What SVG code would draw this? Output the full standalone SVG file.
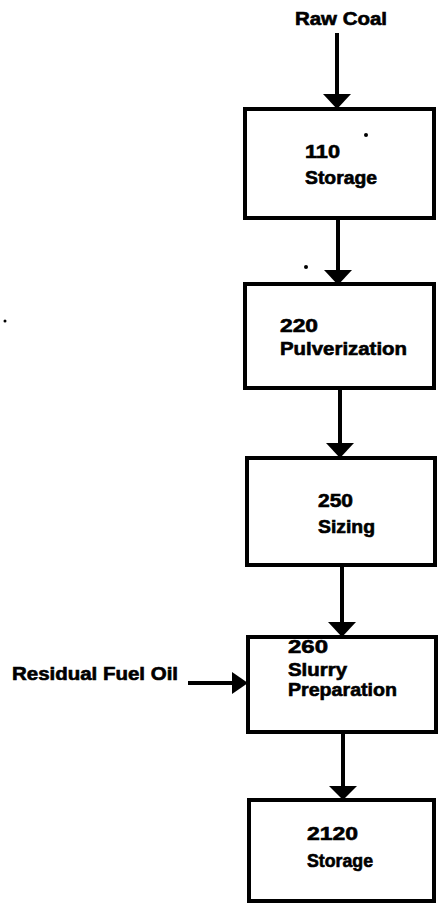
<svg xmlns="http://www.w3.org/2000/svg" width="439" height="906" viewBox="0 0 439 906">
<defs>
<style>
.box{fill:#fff;stroke:#000;stroke-width:4}
.ln{stroke:#000;stroke-width:4;fill:none}
.hd{fill:#000}
text{font-family:"Liberation Sans",Arial,sans-serif;font-weight:bold;font-size:18px;fill:#000;stroke:#000;stroke-width:0.6}
</style>
</defs>
<rect width="439" height="906" fill="#fff"/>
<g id="connectors">
<line class="ln" x1="337" y1="33" x2="337" y2="96"/>
<polygon class="hd" points="323,94 351,94 337,109"/>
<line class="ln" x1="338" y1="220" x2="338" y2="272"/>
<polygon class="hd" points="324,270 352,270 338,285"/>
<line class="ln" x1="340" y1="390" x2="340" y2="445"/>
<polygon class="hd" points="326,443 354,443 340,458"/>
<line class="ln" x1="342" y1="567" x2="342" y2="624"/>
<polygon class="hd" points="328,622 356,622 342,637"/>
<line class="ln" x1="343" y1="734" x2="343" y2="788"/>
<polygon class="hd" points="329,786 357,786 343,800"/>
<line class="ln" x1="188" y1="683" x2="236" y2="683"/>
<polygon class="hd" points="232,672 248,683 232,694"/>
</g>
<g id="raw-coal"><text x="295" y="25" textLength="92" lengthAdjust="spacingAndGlyphs">Raw Coal</text></g>
<g id="residual-fuel-oil"><text x="12" y="680" textLength="166" lengthAdjust="spacingAndGlyphs">Residual Fuel Oil</text></g>
<g id="n110">
<rect class="box" x="245" y="109" width="189" height="109"/>
<text x="305" y="158" textLength="35" lengthAdjust="spacingAndGlyphs">110</text>
<text x="305" y="184" textLength="72" lengthAdjust="spacingAndGlyphs">Storage</text>
</g>
<g id="n220">
<rect class="box" x="245" y="284" width="189" height="104"/>
<text x="280" y="332" textLength="38" lengthAdjust="spacingAndGlyphs">220</text>
<text x="280" y="355" textLength="127" lengthAdjust="spacingAndGlyphs">Pulverization</text>
</g>
<g id="n250">
<rect class="box" x="247" y="458" width="188" height="107"/>
<text x="318" y="507" textLength="35" lengthAdjust="spacingAndGlyphs">250</text>
<text x="318" y="533" textLength="57" lengthAdjust="spacingAndGlyphs">Sizing</text>
</g>
<g id="n260">
<rect class="box" x="248" y="637" width="188" height="95"/>
<text x="288" y="653" textLength="40" lengthAdjust="spacingAndGlyphs">260</text>
<text x="288" y="676" textLength="59" lengthAdjust="spacingAndGlyphs">Slurry</text>
<text x="288" y="696" textLength="109" lengthAdjust="spacingAndGlyphs">Preparation</text>
</g>
<g id="n2120">
<rect class="box" x="249" y="800" width="185" height="101"/>
<text x="307" y="840" textLength="51" lengthAdjust="spacingAndGlyphs">2120</text>
<text x="307" y="867" textLength="66" lengthAdjust="spacingAndGlyphs">Storage</text>
</g>
<g id="specks">
<circle cx="366" cy="135" r="2"/>
<circle cx="306" cy="267" r="2"/>
<circle cx="5" cy="321" r="1.5"/>
</g>
</svg>
